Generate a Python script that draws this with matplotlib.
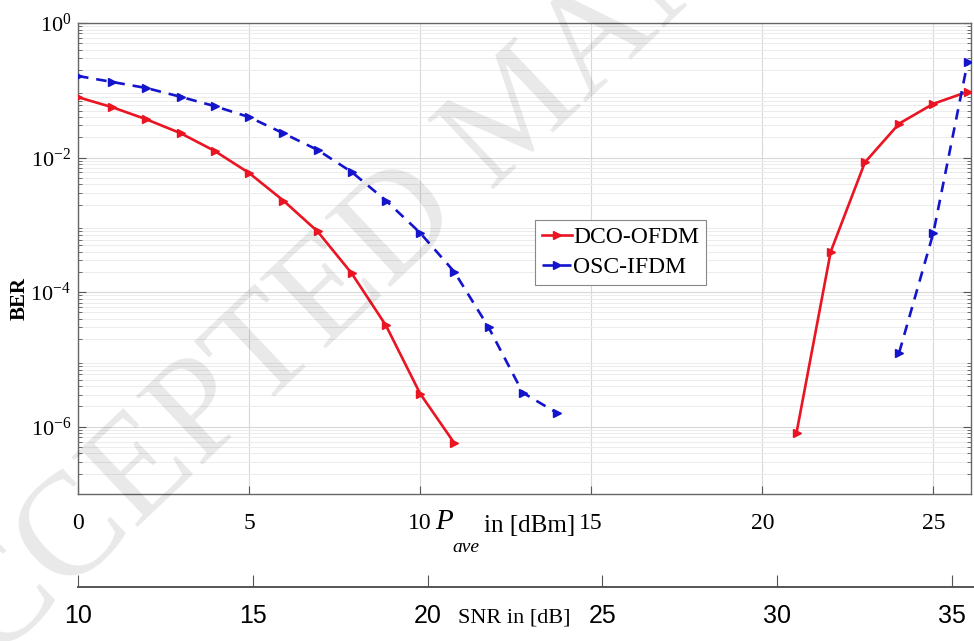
import matplotlib
matplotlib.use("Agg")
import matplotlib.pyplot as plt
import numpy as np
from matplotlib.ticker import LogLocator, NullFormatter, FixedLocator

# ---- data ----
p_low = [0, 1, 2, 3, 4, 5, 6, 7, 8, 9, 10, 11]
dco_low = [0.079, 0.056, 0.037, 0.023, 0.0125, 0.0059, 0.0023, 8.0e-4, 1.9e-4, 3.2e-5, 3.1e-6, 5.7e-7]
p_high_dco = [21, 22, 23, 24, 25, 26]
dco_high = [8.1e-7, 4.0e-4, 8.5e-3, 0.032, 0.063, 0.095]

p_low_osc = [0, 1, 2, 3, 4, 5, 6, 7, 8, 9, 10, 11, 12, 13, 14]
osc_low = [0.163, 0.133, 0.108, 0.080, 0.058, 0.040, 0.023, 0.013, 0.0061, 0.0023, 7.6e-4, 2.0e-4, 3.0e-5, 3.2e-6, 1.6e-6]
p_high_osc = [24, 25, 26]
osc_high = [1.26e-5, 7.6e-4, 0.26]

p_ticks = [0, 5, 10, 15, 20, 25]
snr_ticks = [10, 15, 20, 25, 30, 35]
ber_ticks = [1e-6, 1e-4, 1e-2, 1e0]
ber_ticklabels = [r"$\mathregular{10^{-6}}$", r"$\mathregular{10^{-4}}$", r"$\mathregular{10^{-2}}$", r"$\mathregular{10^{0}}$"]
legend_labels = ["DCO-OFDM", "OSC-IFDM"]

serif = ["Liberation Serif", "DejaVu Serif"]
sans = ["Liberation Sans", "DejaVu Sans"]

W, H = 974, 641
fig = plt.figure(figsize=(W / 100, H / 100), dpi=100)
L, R, T, B = 78, 971, 23, 494
ax = fig.add_axes([L / W, 1 - B / H, (R - L) / W, (B - T) / H])

red = "#ea1422"
blue = "#1414cc"
ax.plot(p_low, dco_low, color=red, lw=1.9, marker=">", ms=5.5, label=legend_labels[0], zorder=3)
ax.plot(p_high_dco, dco_high, color=red, lw=1.9, marker=">", ms=5.5, zorder=3)
ax.plot(p_low_osc, osc_low, color=blue, lw=1.9, ls=(0, (4, 3)), marker=">", ms=5.5, label=legend_labels[1], zorder=3)
ax.plot(p_high_osc, osc_high, color=blue, lw=1.9, ls=(0, (4, 3)), marker=">", ms=5.5, zorder=3)

ax.set_yscale("log")
ax.set_ylim(1e-7, 1)
ax.set_xlim(0, 26.1)
ax.set_xticks(p_ticks)
ax.set_xticklabels([str(t) for t in p_ticks], fontfamily=serif, fontsize=17)
ax.yaxis.set_major_locator(FixedLocator(ber_ticks))
ax.yaxis.set_minor_locator(LogLocator(base=10, subs=np.arange(2, 10), numticks=20))
ax.yaxis.set_minor_formatter(NullFormatter())
ax.set_yticklabels(ber_ticklabels)
for lab in ax.get_yticklabels():
    lab.set_fontfamily(serif)
    lab.set_fontsize(16)
ax.tick_params(which="both", direction="in", top=False, right=True, color="#555555")
ax.tick_params(which="major", length=6)
ax.tick_params(which="minor", length=3)
ax.tick_params(axis="y", pad=5)
ax.tick_params(axis="x", pad=14)
ax.grid(True, which="major", color="#d8d8d8", lw=0.8)
ax.grid(True, which="minor", axis="y", color="#ececec", lw=0.7)
for s in ax.spines.values():
    s.set_color("#666666")
    s.set_linewidth(1.0)

fig.text(20 / W, 1 - 298 / H, "BER", fontfamily=serif, fontsize=15, fontweight="bold",
         rotation=90, ha="center", va="center")

# x label: P_ave in [dBm]
fig.text(444 / W, 1 - 522 / H, "P", fontfamily=serif, fontstyle="italic", fontsize=21,
         ha="center", va="center")
fig.text(466 / W, 1 - 548 / H, "ave", fontfamily=serif, fontstyle="italic", fontsize=14,
         ha="center", va="center")
fig.text(530 / W, 1 - 526 / H, "in [dBm]", fontfamily=serif, fontsize=18,
         ha="center", va="center")

leg = ax.legend(loc="upper left", bbox_to_anchor=(0.512, 0.582), prop={"family": serif, "size": 17},
                frameon=True, fancybox=False, edgecolor="#888888", framealpha=1,
                handlelength=1.25, handletextpad=0.05, borderpad=0.3, labelspacing=0.35,
                borderaxespad=0)
leg.get_frame().set_linewidth(0.8)

# second (SNR) axis
ax2 = fig.add_axes([L / W, 1 - 587 / H, (R - L + 3) / W, 0.0001])
ax2.set_xlim(10, 35.63)
ax2.set_xticks(snr_ticks)
ax2.set_xticklabels([str(t) for t in snr_ticks], fontfamily=sans, fontsize=18)
ax2.set_yticks([])
for k in ["left", "right", "top"]:
    ax2.spines[k].set_visible(False)
ax2.spines["bottom"].set_color("#555555")
ax2.spines["bottom"].set_linewidth(1.4)
ax2.tick_params(axis="x", direction="in", length=9, color="#555555", pad=12)
ax2.patch.set_alpha(0)
fig.text(514 / W, 1 - 618 / H, "SNR in [dB]", fontfamily=serif, fontsize=16, ha="center", va="center")

# watermark
wm = fig.text(0.535, 0.82, "ACCEPTED MANUSCRIPT", fontfamily=serif, fontsize=105, color="#000000",
              alpha=0.09, rotation=43.5, ha="center", va="center", zorder=10)
wm.set_clip_on(True)

fig.savefig("out.png", dpi=100)
